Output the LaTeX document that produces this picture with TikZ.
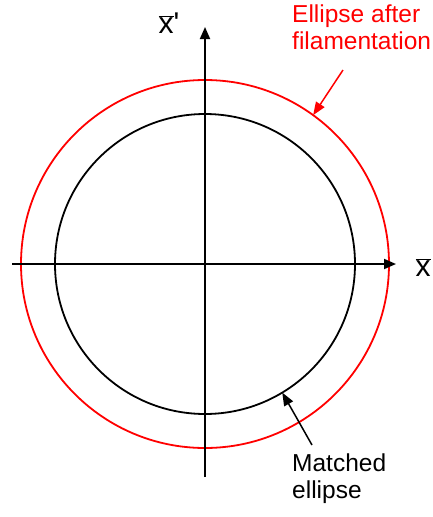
\documentclass[tikz,border=0pt]{standalone}
\usepackage{fontspec}
\setmainfont{Liberation Sans}
\usetikzlibrary{arrows.meta}
\tikzset{
  axis/.style={line width=1.8pt, -{Triangle[length=12pt,width=10pt]}},
  pointer/.style={line width=1.5pt, -{Triangle[length=13pt,width=10pt]}},
  ring/.style={draw, circle, line width=1.8pt, inner sep=0pt, outer sep=0pt},
  label/.style={font=\fontsize{24.5}{27}\selectfont, inner sep=0pt},
  axislabel/.style={font=\fontsize{30}{30}\selectfont, inner sep=0pt}
}
\begin{document}
\begin{tikzpicture}[x=1pt, y=-1pt]
        \useasboundingbox (0,0) rectangle (433,517);
        % Ellipses
        \node[ring, red, minimum size=368pt] (filam) at (205,264) {};
        \node[ring, black, minimum size=300pt] (matched) at (205,264) {};

        % Axes
        \coordinate (xstart) at (12,264);
        \coordinate (xend) at (396,264);
        \coordinate (ystart) at (205,477);
        \coordinate (yend) at (205,27);
        \draw[axis] (xstart) -- (xend);
        \draw[axis] (ystart) -- (yend);
        \node[axislabel] (xlab) at (423,268) {$\overline{\mbox{x}}$};
        \node[axislabel] (xplab) at (169,23) {$\overline{\mbox{x}}$\textquotesingle};

        % Labels
        \node[label, red, align=left, anchor=north west] (filamtext) at (292,5) {Ellipse after\\filamentation};
        \node[label, align=left, anchor=north west] (matchedtext) at (292,454) {Matched\\ellipse};
        \coordinate (redtail) at (343,70);
        \coordinate (blacktail) at (312,445);
        \draw[pointer, red] (redtail) -- (filam.54.6);
        \draw[pointer] (blacktail) -- (matched.-59.5);
    \end{tikzpicture}
\end{document}
